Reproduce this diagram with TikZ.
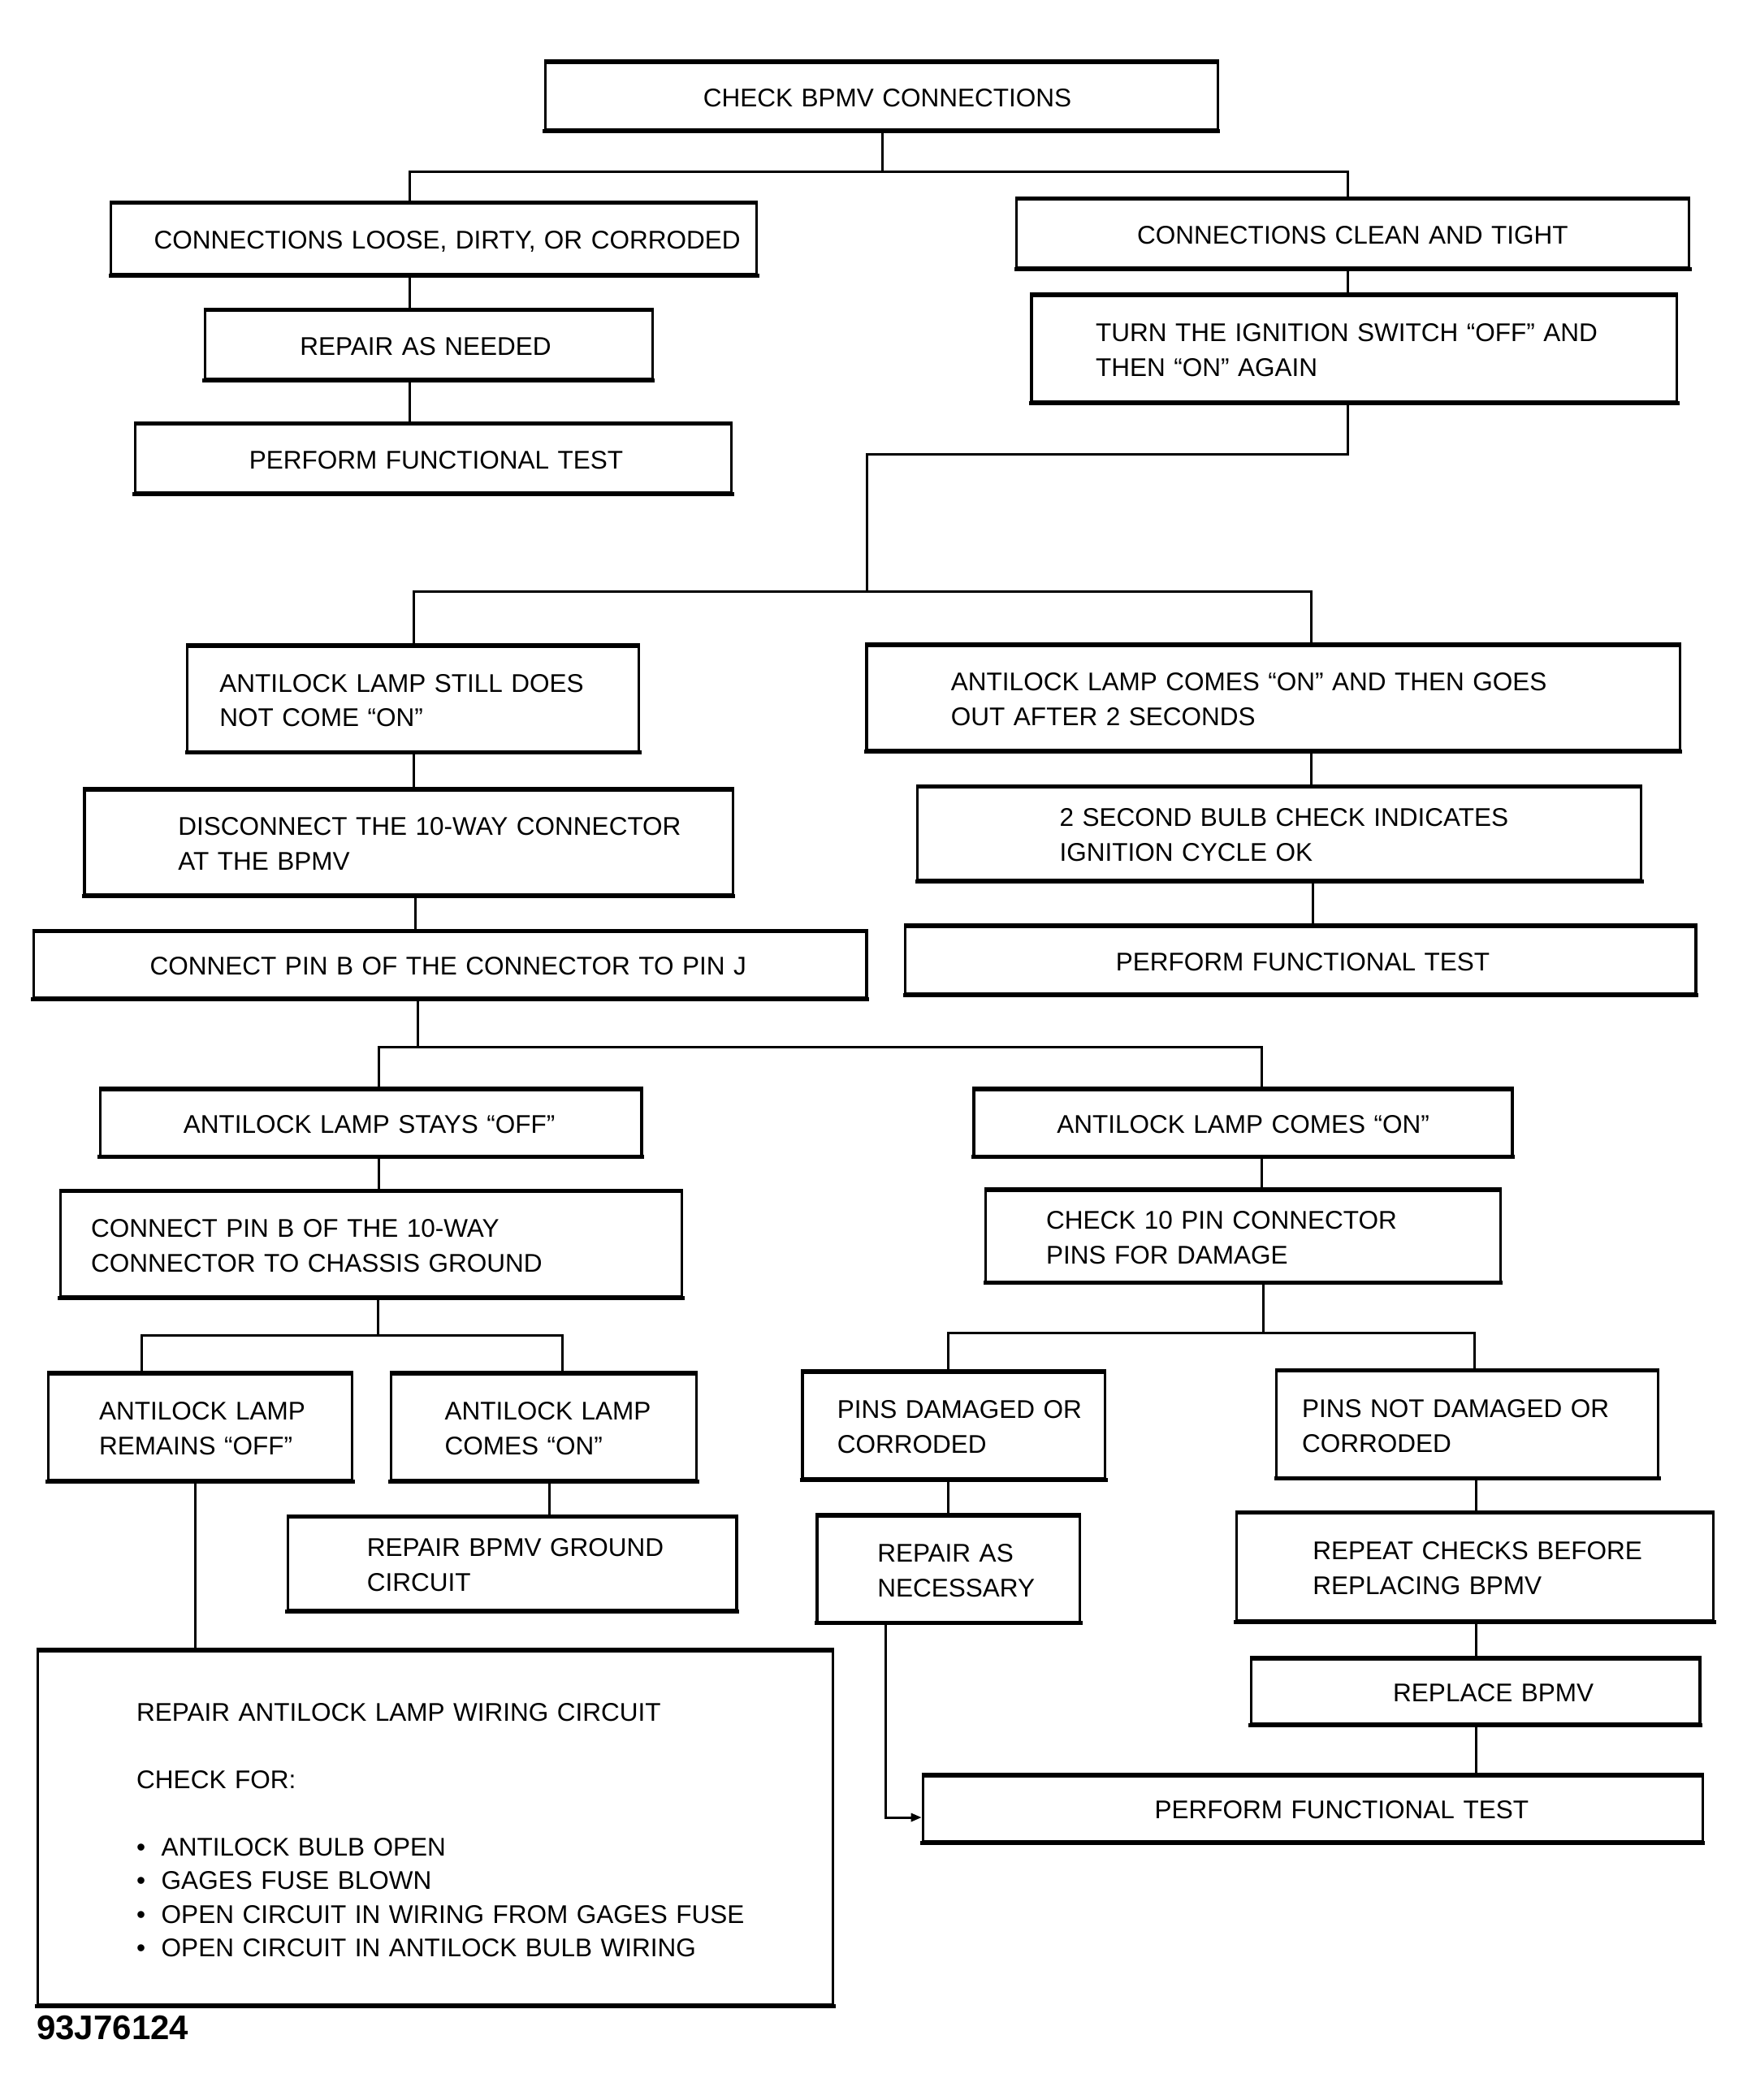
\documentclass[tikz,border=0pt]{standalone}
\usepackage{fontspec}
\setmainfont{Liberation Sans}[WordSpace=2.0]
\usetikzlibrary{arrows.meta}
\newcommand\fcfont{\fontsize{31.5}{42.9}\selectfont}
\tikzset{
  fcstyle/.style={draw, line width=3.2pt, inner sep=0pt, align=left, font=\fcfont},
  edgeline/.style={line width=5pt, shorten <=-1.6pt, shorten >=-1.6pt},
  conn/.style={line width=3pt, line cap=rect},
}
\newcommand\fcbox[7]{%
  \pgfmathsetmacro\fcw{(#4-#2)*1.6487}%
  \pgfmathsetmacro\fch{(#5-#3)*1.6487}%
  \pgfmathsetmacro\fcp{#6*1.6487}%
  \node[fcstyle, minimum width=\fcw pt, minimum height=\fch pt, text width=\fcw pt]
    (#1) at ({(#2+#4)/2},{(#3+#5)/2}) {\hspace*{\fcp pt}\raisebox{-4pt}[\height][\depth]{\begin{tabular}{@{}l@{}}#7\end{tabular}}};
  \draw[edgeline] (#1.north west) -- (#1.north east) (#1.south west) -- (#1.south east);
}
\begin{document}
\begin{tikzpicture}[x=1.6487pt,y=-1.6487pt]
\useasboundingbox (0,0) rectangle (1301,1568);
\fill[white] (0,0) rectangle (1301,1568);

\fcbox{check}{407}{47}{909}{97}{118}{CHECK BPMV CONNECTIONS}
\fcbox{loose}{83}{152}{565}{205}{32}{CONNECTIONS LOOSE, DIRTY, OR CORRODED}
\fcbox{repair}{153}{232}{487}{283}{71}{REPAIR AS NEEDED}
\fcbox{perfa}{101}{317}{546}{368}{85}{PERFORM FUNCTIONAL TEST}
\fcbox{clean}{759}{149}{1261}{200}{90}{CONNECTIONS CLEAN AND TIGHT}
\fcbox{turn}{770}{221}{1252}{300}{48}{TURN THE IGNITION SWITCH “OFF” AND\\THEN “ON” AGAIN}
\fcbox{still}{140}{483}{477}{561}{24}{ANTILOCK LAMP STILL DOES\\NOT COME “ON”}
\fcbox{comes}{647}{482}{1254}{560}{63}{ANTILOCK LAMP COMES “ON” AND THEN GOES\\OUT AFTER 2 SECONDS}
\fcbox{disc}{63}{590}{547}{668}{70}{DISCONNECT THE 10-WAY CONNECTOR\\AT THE BPMV}
\fcbox{bulb}{685}{588}{1225}{657}{106}{2 SECOND BULB CHECK INDICATES\\IGNITION CYCLE OK}
\fcbox{pinj}{25}{696}{647}{745}{87}{CONNECT PIN B OF THE CONNECTOR TO PIN J}
\fcbox{perfb}{676}{692}{1266}{742}{157}{PERFORM FUNCTIONAL TEST}
\fcbox{stays}{75}{814}{479}{863}{62}{ANTILOCK LAMP STAYS “OFF”}
\fcbox{ona}{727}{814}{1129}{863}{62}{ANTILOCK LAMP COMES “ON”}
\fcbox{gnd}{45}{890}{509}{968}{23}{CONNECT PIN B OF THE 10-WAY\\CONNECTOR TO CHASSIS GROUND}
\fcbox{chk}{736}{889}{1120}{957}{45}{CHECK 10 PIN CONNECTOR\\PINS FOR DAMAGE}
\fcbox{remains}{36}{1026}{263}{1105}{38}{ANTILOCK LAMP\\REMAINS “OFF”}
\fcbox{onb}{292}{1026}{520}{1105}{40}{ANTILOCK LAMP\\COMES “ON”}
\fcbox{dam}{599}{1025}{825}{1104}{26}{PINS DAMAGED OR\\CORRODED}
\fcbox{notdam}{953}{1024}{1238}{1103}{19}{PINS NOT DAMAGED OR\\CORRODED}
\fcbox{rbg}{215}{1133}{550}{1202}{59}{REPAIR BPMV GROUND\\CIRCUIT}
\fcbox{rnec}{610}{1132}{806}{1211}{45}{REPAIR AS\\NECESSARY}
\fcbox{repeat}{923}{1130}{1279}{1210}{57}{REPEAT CHECKS BEFORE\\REPLACING BPMV}
\fcbox{replace}{934}{1239}{1269}{1287}{106}{REPLACE BPMV}
\fcbox{perfc}{689}{1326}{1271}{1375}{173}{PERFORM FUNCTIONAL TEST}

% big box
\node[fcstyle, minimum width=979.3pt, minimum height=435.3pt, text width=979.3pt]
  (big) at (325,1365) {\fontsize{31.5}{41.5}\selectfont\hspace*{122pt}\raisebox{-5pt}[\height][\depth]{\begin{tabular}{@{}l@{}}
  REPAIR ANTILOCK LAMP WIRING CIRCUIT\\ \\
  CHECK FOR:\\ \\
  \makebox[30.5pt][l]{•}ANTILOCK BULB OPEN\\
  \makebox[30.5pt][l]{•}GAGES FUSE BLOWN\\
  \makebox[30.5pt][l]{•}OPEN CIRCUIT IN WIRING FROM GAGES FUSE\\
  \makebox[30.5pt][l]{•}OPEN CIRCUIT IN ANTILOCK BULB WIRING
  \end{tabular}}};
\draw[edgeline] (big.north west) -- (big.north east) (big.south west) -- (big.south east);

\node[font=\fontsize{42}{42}\selectfont\bfseries, anchor=base west, inner sep=0pt] (code) at (27.3,1523) {93J76124};

% connectors
\draw[conn] (659,0 |- check.south) -- (659,128);
\draw[conn] (306,0 |- loose.north) |- (1006,128) -- (1006,0 |- clean.north);
\draw[conn] (306,0 |- loose.south) -- (306,0 |- repair.north);
\draw[conn] (306,0 |- repair.south) -- (306,0 |- perfa.north);
\draw[conn] (1006,0 |- clean.south) -- (1006,0 |- turn.north);
\draw[conn] (1006,0 |- turn.south) |- (647,339) -- (647,442);
\draw[conn] (309,0 |- still.north) |- (979,442) -- (979,0 |- comes.north);
\draw[conn] (309,0 |- still.south) -- (309,0 |- disc.north);
\draw[conn] (310,0 |- disc.south) -- (310,0 |- pinj.north);
\draw[conn] (979,0 |- comes.south) -- (979,0 |- bulb.north);
\draw[conn] (980,0 |- bulb.south) -- (980,0 |- perfb.north);
\draw[conn] (312,0 |- pinj.south) -- (312,782);
\draw[conn] (283,0 |- stays.north) |- (942,782) -- (942,0 |- ona.north);
\draw[conn] (283,0 |- stays.south) -- (283,0 |- gnd.north);
\draw[conn] (942,0 |- ona.south) -- (942,0 |- chk.north);
\draw[conn] (282,0 |- gnd.south) -- (282,997);
\draw[conn] (106,0 |- remains.north) |- (420,997) -- (420,0 |- onb.north);
\draw[conn] (410,0 |- onb.south) -- (410,0 |- rbg.north);
\draw[conn] (146,0 |- remains.south) -- (146,0 |- big.north);
\draw[conn] (943,0 |- chk.south) -- (943,995);
\draw[conn] (708,0 |- dam.north) |- (1101,995) -- (1101,0 |- notdam.north);
\draw[conn] (708,0 |- dam.south) -- (708,0 |- rnec.north);
\draw[conn] (1102,0 |- notdam.south) -- (1102,0 |- repeat.north);
\draw[conn] (1102,0 |- repeat.south) -- (1102,0 |- replace.north);
\draw[conn] (1102,0 |- replace.south) -- (1102,0 |- perfc.north);
\draw[conn, -{Triangle[length=13pt,width=10pt]}] (661,0 |- rnec.south) |- (perfc.west |- 0,1357);
\end{tikzpicture}
\end{document}
